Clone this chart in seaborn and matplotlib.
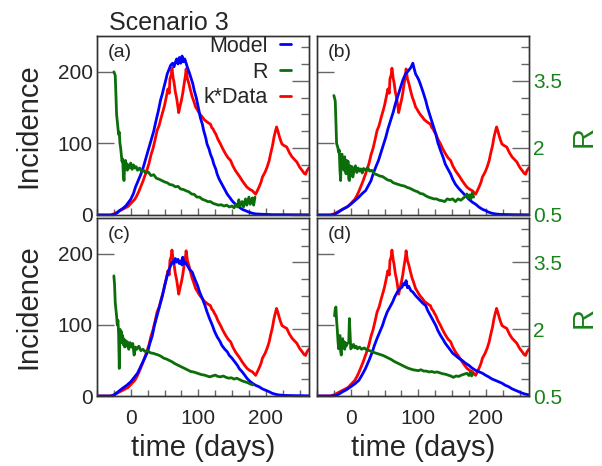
import matplotlib
matplotlib.use("Agg")
import matplotlib.pyplot as plt
import seaborn as sns
from matplotlib.ticker import FixedLocator, MultipleLocator
from matplotlib.lines import Line2D

# ---------------- data ----------------
red_days = [-50, -30, -27, -24, -20, -16, -12, -8, -4, 0, 3, 6, 9, 12, 15, 18, 21, 24, 27, 30, 33, 36, 39, 42,
            45, 48, 50, 52, 55, 57, 58, 60, 61, 63, 64, 66, 68, 70, 71, 73, 75, 77, 79, 81, 82, 84, 86, 88, 91,
            93, 96, 98, 101, 104, 106, 109, 113, 116, 118, 120, 122, 124, 126, 129, 133, 136, 140, 144, 148,
            151, 155, 158, 161, 165, 168, 172, 176, 180, 183, 185, 187, 190, 193, 195, 199, 202, 205, 207,
            210, 212, 214, 216, 218, 220, 222, 224, 227, 231, 235, 239, 242, 246, 250, 254, 257, 259, 261, 264]
red_vals = [0, 0, 1, 2, 4, 6, 8, 10, 12, 16, 19, 22, 27, 33, 40, 47, 55, 63, 72, 84, 93, 105, 118, 125,
            136, 146, 153, 162, 176, 170, 190, 196, 205, 190, 186, 172, 163, 150, 143, 152, 160, 170, 183,
            195, 204, 190, 184, 176, 165, 160, 151, 148, 143, 139, 137, 133, 130, 128, 127, 122, 120, 116,
            113, 106, 99, 93, 86, 80, 76, 69, 62, 58, 54, 48, 44, 39, 36, 34, 31, 29, 33, 39, 46, 53, 60, 67,
            76, 85, 97, 108, 116, 123, 117, 110, 104, 99, 97, 95, 87, 81, 78, 74, 67, 62, 58, 57, 62, 66]

blue_a_days = [-50, -30, -25, -20, -17, -12, -7, 0, 4, 7, 11, 15, 19, 22, 26, 30, 34, 37, 41, 44, 47, 49, 52,
               54, 57, 59, 62, 64, 66, 68, 70, 72, 74, 76, 78, 80, 82, 84, 87, 89, 92, 94, 97, 99, 101, 103,
               106, 108, 111, 113, 116, 118, 121, 123, 126, 128, 131, 135, 139, 143, 147, 150, 154, 158, 162,
               165, 170, 175, 180, 185, 195, 210, 264]
blue_a_vals = [0, 0, 0.5, 3, 6, 9, 13, 22, 30, 39, 48, 57, 68, 78, 91, 104, 117, 130, 146, 160, 170, 178, 189,
               197, 204, 209, 212, 207, 213, 218, 211, 220, 212, 222, 214, 218, 212, 206, 198, 192, 183, 174,
               164, 155, 146, 136, 127, 118, 108, 99, 92, 85, 78, 71, 64, 57, 50, 43, 36, 29, 24, 20, 16, 13,
               10, 8, 6, 4, 2.5, 1.5, 1, 0.5, 0.3]

blue_b_days = [-50, -30, -25, -20, -12, -6, 0, 6, 12, 17, 22, 26, 30, 33, 37, 41, 44, 48, 52, 55, 59, 63, 66,
               70, 74, 77, 81, 85, 89, 92, 94, 96, 99, 101, 103, 107, 111, 114, 118, 122, 126, 129, 133, 137,
               140, 144, 148, 151, 155, 160, 165, 170, 175, 180, 185, 190, 195, 200, 204, 209, 214, 222, 240, 264]
blue_b_vals = [0, 0, 0.5, 3, 8, 11, 15, 20, 25, 30, 34, 41, 48, 57, 67, 76, 85, 97, 109, 120, 132, 144, 155,
               167, 179, 188, 197, 201, 206, 212, 204, 197, 192, 188, 183, 172, 160, 149, 137, 125, 113, 101,
               90, 80, 71, 64, 57, 50, 43, 37, 32, 27, 22, 18, 15, 11, 8, 6, 4, 2.5, 1.5, 0.8, 0.5, 0.3]

blue_c_days = [-50, -30, -25, -20, -12, -6, 0, 5, 10, 14, 17, 21, 25, 28, 32, 35, 39, 43, 47, 50, 54, 57, 59,
               62, 64, 66, 68, 70, 72, 74, 76, 77, 79, 81, 84, 87, 91, 95, 99, 102, 106, 110, 113, 117, 121,
               124, 128, 132, 135, 139, 143, 146, 150, 154, 158, 161, 165, 169, 172, 176, 180, 185, 190, 195,
               200, 205, 209, 214, 219, 228, 245, 264]
blue_c_vals = [0, 0, 1, 5, 11, 15, 20, 26, 32, 40, 46, 54, 62, 73, 85, 99, 113, 127, 141, 155, 169, 178, 183,
               189, 186, 193, 188, 192, 186, 190, 184, 195, 186, 188, 183, 178, 174, 164, 155, 146, 137, 127,
               118, 108, 99, 91, 83, 77, 71, 66, 62, 57, 53, 48, 43, 38, 34, 29, 25, 21, 18, 15, 13, 10, 8, 6,
               4, 2.5, 1.5, 0.8, 0.5, 0.3]

blue_d_days = [-50, -30, -22, -17, -12, -6, 0, 6, 12, 17, 22, 27, 32, 35, 39, 43, 47, 50, 54, 58, 62, 65, 69,
               72, 76, 78, 80, 82, 84, 86, 89, 92, 96, 99, 103, 107, 111, 114, 118, 122, 126, 129, 133, 137,
               140, 144, 148, 151, 155, 160, 165, 170, 175, 180, 185, 190, 195, 200, 204, 209, 214, 219, 224,
               229, 234, 239, 244, 249, 254, 259, 264]
blue_d_vals = [0, 0, 0.5, 3, 6, 9, 13, 17, 22, 30, 39, 50, 62, 71, 81, 90, 99, 108, 118, 125, 132, 139, 146,
               150, 153, 158, 156, 162, 152, 154, 148, 146, 141, 138, 134, 130, 127, 120, 113, 106, 99, 92, 85,
               79, 74, 69, 64, 60, 57, 53, 50, 46, 43, 39, 36, 34, 32, 29, 27, 24, 22, 20, 18, 15, 13, 10, 8,
               6, 4, 2.5, 1.5]

green_a_days = [-25, -23, -22, -21, -20, -18, -17, -16, -15, -14, -13, -12, -11, -10, -9, -8, -7, -6, -5, -4,
                -2, 0, 2, 4, 6, 8, 10, 13, 16, 19, 22, 26, 30, 34, 38, 42, 46, 50, 54, 58, 62, 66, 70, 74, 78,
                82, 86, 90, 94, 98, 102, 106, 110, 114, 118, 122, 126, 130, 134, 138, 142, 146, 150, 153, 156,
                158, 160, 162, 165, 167, 170, 172, 175, 177, 180, 182, 184]
green_a_vals = [3.70, 3.62, 3.2, 2.75, 2.6, 2.3, 2.35, 2.1, 2.0, 1.85, 1.7, 1.75, 1.4, 1.27, 1.6, 1.72, 1.55,
                1.65, 1.5, 1.62, 1.55, 1.66, 1.52, 1.62, 1.55, 1.58, 1.5, 1.55, 1.47, 1.5, 1.44, 1.46, 1.38,
                1.4, 1.32, 1.3, 1.27, 1.24, 1.22, 1.18, 1.17, 1.13, 1.14, 1.08, 1.07, 1.04, 1.02, 0.97, 0.96,
                0.9, 0.9, 0.85, 0.83, 0.8, 0.8, 0.76, 0.74, 0.72, 0.73, 0.7, 0.72, 0.68, 0.7, 0.66, 0.74, 0.68,
                0.84, 0.7, 0.8, 0.68, 0.86, 0.72, 0.9, 0.74, 0.88, 0.72, 0.9]

green_b_days = [-25, -23, -22, -21, -19, -18, -17, -16, -15, -14, -13, -12, -11, -10, -9, -8, -7, -6, -5, -4,
                -3, -2, -1, 0, 2, 3, 5, 7, 9, 11, 13, 15, 17, 19, 22, 25, 28, 31, 35, 39, 43, 47, 51, 55, 59,
                63, 67, 71, 75, 79, 83, 87, 91, 95, 99, 103, 107, 111, 115, 119, 123, 127, 131, 135, 139, 143,
                147, 151, 155, 159, 163, 167, 170, 172, 174, 176, 178, 180, 182]
green_b_vals = [3.17, 3.05, 2.6, 2.1, 2.0, 1.9, 1.95, 1.5, 1.27, 1.8, 1.86, 1.6, 1.75, 1.5, 1.8, 1.55, 1.42,
                1.72, 1.6, 1.7, 1.3, 1.27, 1.6, 1.52, 1.58, 1.35, 1.5, 1.6, 1.45, 1.55, 1.48, 1.53, 1.44, 1.54,
                1.5, 1.56, 1.48, 1.5, 1.42, 1.4, 1.37, 1.36, 1.32, 1.28, 1.27, 1.22, 1.2, 1.18, 1.16, 1.15,
                1.12, 1.1, 1.07, 1.04, 1.02, 0.98, 0.97, 0.93, 0.9, 0.88, 0.86, 0.86, 0.83, 0.82, 0.8, 0.86,
                0.84, 0.86, 0.8, 0.86, 0.83, 0.88, 0.92, 0.97, 0.88, 0.95, 0.86, 1.0, 0.9]

green_c_days = [-25, -24, -23, -22, -21, -20, -19, -18, -17, -16, -15, -14, -13, -12, -11, -10, -9, -8, -7,
                -5, -3, -1, 1, 3, 5, 7, 9, 12, 15, 18, 21, 25, 29, 33, 37, 41, 45, 49, 53, 57, 61, 65, 69, 73,
                77, 81, 85, 89, 93, 97, 101, 105, 109, 113, 117, 121, 125, 129, 133, 137, 141, 145, 149, 153,
                157, 161, 165, 169, 173, 177, 181]
green_c_vals = [3.2, 3.0, 2.6, 2.45, 2.3, 2.1, 2.2, 1.9, 1.12, 2.0, 1.85, 1.95, 1.7, 1.86, 1.65, 1.78, 1.6,
                1.75, 1.62, 1.72, 1.55, 1.7, 1.6, 1.68, 1.42, 1.6, 1.55, 1.62, 1.52, 1.55, 1.5, 1.52, 1.47,
                1.46, 1.44, 1.42, 1.39, 1.35, 1.33, 1.3, 1.27, 1.23, 1.2, 1.17, 1.14, 1.11, 1.08, 1.05, 1.04,
                1.02, 1.0, 0.98, 0.97, 0.95, 0.93, 0.95, 0.97, 0.94, 0.93, 0.95, 0.92, 0.9, 0.91, 0.88, 0.9,
                0.87, 0.84, 0.82, 0.8, 0.77, 0.75]

green_d_days = [-24, -23, -22, -21, -20, -19, -18, -17, -16, -15, -14, -13, -12, -11, -10, -9, -8, -7, -5, -3,
                -2, -1, 0, 2, 4, 6, 8, 10, 13, 16, 20, 24, 28, 32, 36, 40, 44, 48, 52, 56, 60, 64, 68, 72, 76,
                80, 84, 88, 92, 96, 100, 104, 108, 112, 116, 120, 124, 128, 132, 136, 140, 144, 148, 152, 156,
                160, 164, 168, 172, 175, 177, 179, 181]
green_d_vals = [2.3, 2.45, 2.5, 2.2, 2.0, 1.75, 1.56, 1.8, 1.86, 1.5, 1.42, 1.7, 1.79, 1.6, 1.72, 1.55, 1.7,
                1.62, 1.68, 1.7, 2.24, 1.9, 1.56, 1.6, 1.66, 1.58, 1.62, 1.56, 1.6, 1.55, 1.58, 1.53, 1.52,
                1.49, 1.47, 1.45, 1.43, 1.41, 1.38, 1.35, 1.32, 1.28, 1.25, 1.22, 1.19, 1.16, 1.13, 1.11, 1.09,
                1.08, 1.07, 1.09, 1.06, 1.06, 1.04, 1.05, 1.03, 1.04, 1.02, 1.0, 0.99, 0.97, 0.95, 0.92, 0.95,
                0.94, 0.97, 0.99, 1.01, 0.96, 1.03, 0.95, 1.0]

panel_labels = ["(a)", "(b)", "(c)", "(d)"]
legend_labels = ["Model", "R", "k*Data"]
inc_ticks = [0, 100, 200]
r_ticks = [0.5, 2, 3.5]
r_minor = [0.875, 1.25, 1.625, 2.375, 2.75, 3.125, 3.875, 4.25]
x_ticks = [0, 100, 200]

# ---------------- style ----------------
sns.set_theme(style="ticks")
plt.rcParams['font.family'] = ['Liberation Sans', 'DejaVu Sans']

RED = "#ff0000"
BLUE = "#0000ff"
GREEN = "#0b6e0b"
GREEN_TXT = "#1a821a"
TICK_C = "#666666"
SPINE_C = "#333333"
LW = 2.0

W, H = 602, 466
L1, R1 = 97 / W, 309 / W
L2, R2 = 317 / W, 529 / W
T1, B1 = 1 - 36 / H, 1 - 215 / H
T2, B2 = 1 - 218 / H, 1 - 396 / H
rects = [[L1, B1, R1 - L1, T1 - B1], [L2, B1, R2 - L2, T1 - B1],
         [L1, B2, R1 - L1, T2 - B2], [L2, B2, R2 - L2, T2 - B2]]

blues = [(blue_a_days, blue_a_vals), (blue_b_days, blue_b_vals),
         (blue_c_days, blue_c_vals), (blue_d_days, blue_d_vals)]
greens = [(green_a_days, green_a_vals), (green_b_days, green_b_vals),
          (green_c_days, green_c_vals), (green_d_days, green_d_vals)]

fig = plt.figure(figsize=(W / 100, H / 100), dpi=100)

for i, rect in enumerate(rects):
    left_col = i in (0, 2)
    bottom_row = i in (2, 3)
    ax = fig.add_axes(rect)
    sns.lineplot(x=red_days, y=red_vals, ax=ax, color=RED, linewidth=LW, estimator=None, sort=False)
    bd, bv = blues[i]
    sns.lineplot(x=bd, y=bv, ax=ax, color=BLUE, linewidth=LW, estimator=None, sort=False)
    ax.set_xlim(-50, 264)
    ax.set_ylim(0, 250)
    ax.set_yticks(inc_ticks)
    ax.set_xticks(x_ticks)
    ax.xaxis.set_minor_locator(MultipleLocator(25))
    ax.tick_params(axis='y', which='major', direction='in', length=12, width=1, color=TICK_C,
                   labelsize=15, pad=3, left=True, labelleft=left_col)
    ax.tick_params(axis='x', which='major', direction='in', length=5, width=1, color=TICK_C,
                   labelsize=15, pad=9, bottom=True, labelbottom=bottom_row)
    ax.tick_params(axis='x', which='minor', direction='in', length=4, width=1, color=TICK_C, bottom=True)
    ax.set_xlabel("")
    ax.set_ylabel("")
    if left_col:
        ax.set_ylabel("Incidence", fontsize=21)
        ax.yaxis.set_label_coords(-0.26, 0.5)
    if bottom_row:
        ax.set_xlabel("time (days)", fontsize=21)
        ax.xaxis.set_label_coords(0.5, -0.215)

    ax2 = ax.twinx()
    gd, gv = greens[i]
    sns.lineplot(x=gd, y=gv, ax=ax2, color=GREEN, linewidth=LW, estimator=None, sort=False)
    ax2.set_ylim(0.5, 4.5)
    ax2.set_xlim(-50, 264)
    ax2.set_yticks(r_ticks)
    ax2.set_yticklabels(["0.5", "2", "3.5"])
    ax2.yaxis.set_minor_locator(FixedLocator(r_minor))
    ax2.tick_params(axis='y', which='major', direction='in', length=12, width=1, color=TICK_C,
                    labelsize=15, pad=3, labelcolor=GREEN_TXT, right=True, labelright=not left_col)
    ax2.tick_params(axis='y', which='minor', direction='in', length=6, width=1, color=TICK_C, right=True)
    ax2.set_xlabel("")
    ax2.set_ylabel("")
    if not left_col:
        ax2.set_ylabel("R", fontsize=21, color=GREEN_TXT)
        ax2.yaxis.set_label_coords(1.19, 0.44)

    for a in (ax, ax2):
        for s in a.spines.values():
            s.set_color(SPINE_C)
            s.set_linewidth(1.0)

    ax2.text(0.05, 0.955, panel_labels[i], transform=ax.transAxes, fontsize=14,
             ha='left', va='top')

    if i == 0:
        handles = [Line2D([], [], color=BLUE, lw=LW), Line2D([], [], color=GREEN, lw=LW),
                   Line2D([], [], color=RED, lw=LW)]
        ax2.legend(handles, legend_labels, loc='upper right', bbox_to_anchor=(0.915, 1.0),
                   frameon=False, markerfirst=False, handlelength=0.5, handletextpad=0.6,
                   labelspacing=0.22, fontsize=15.5, borderaxespad=0, borderpad=0)

fig.text(169 / W, 1 - 30 / H, "Scenario 3", fontsize=18, ha='center', va='baseline')

fig.savefig("out.png", dpi=100)
